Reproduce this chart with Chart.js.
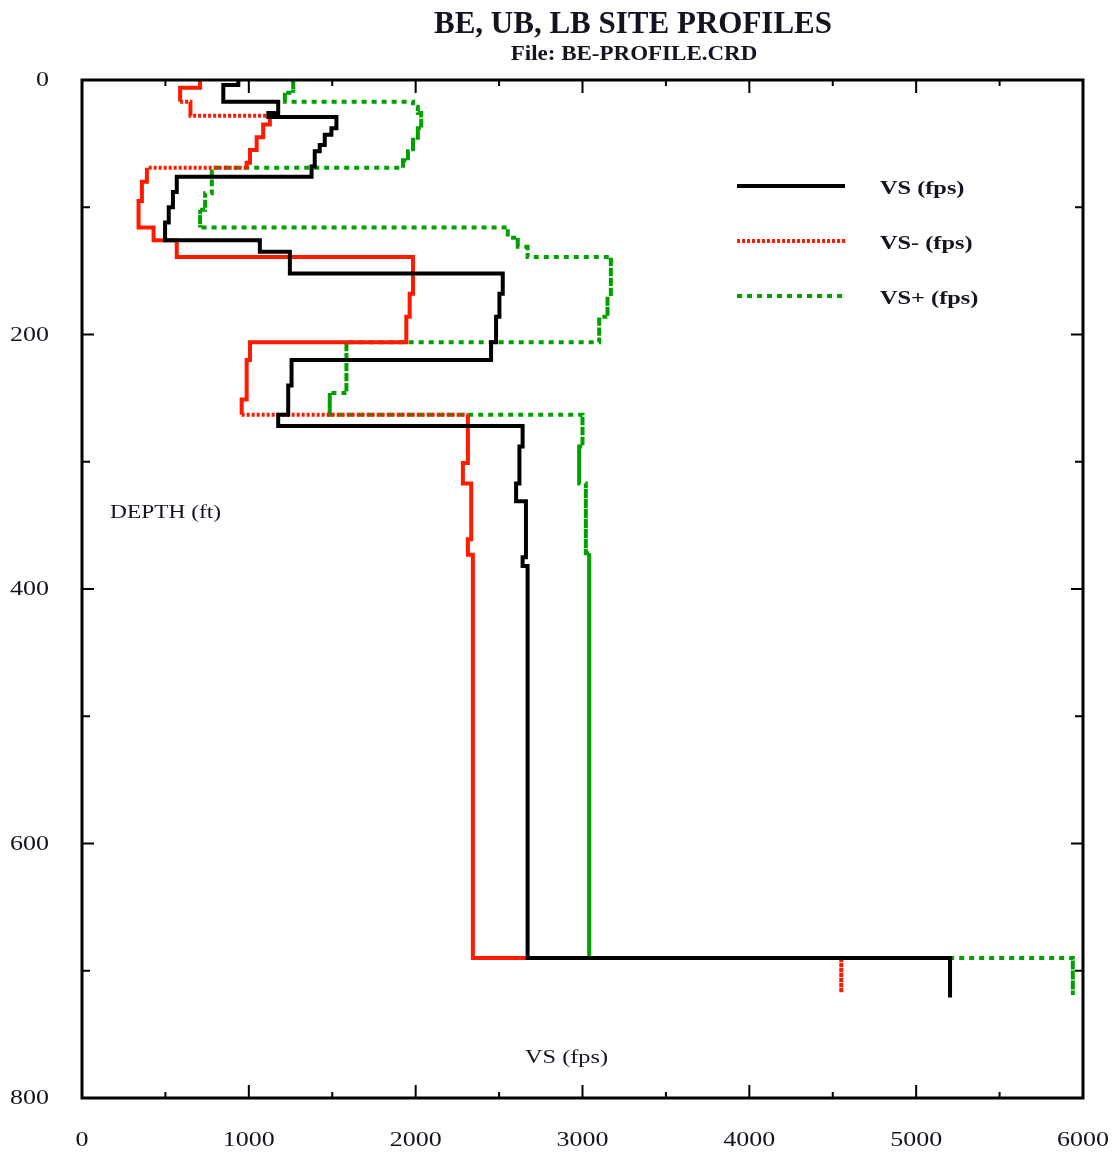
<!DOCTYPE html>
<html>
<head>
<meta charset="utf-8">
<script src="https://cdn.jsdelivr.net/npm/chart.js@4"></script>
<style>
  html, body { margin: 0; padding: 0; background: #fff; }
  #wrap { width: 1119px; height: 1152px; }
</style>
</head>
<body>
<div id="wrap"><canvas id="profileChart"></canvas></div>
<script>
const titleText = "BE, UB, LB SITE PROFILES";
const subtitleText = "File: BE-PROFILE.CRD";
const xAxisLabel = "VS (fps)";
const yAxisLabel = "DEPTH (ft)";
const seriesNames = ["VS (fps)", "VS- (fps)", "VS+ (fps)"];

// layer top depth (ft) and shear wave velocity (fps) for each profile
const vsDepth = [0, 4, 17, 26, 29, 38, 43, 51, 56, 68, 76, 88, 100, 112, 126, 135, 152, 168, 186, 206, 220, 240, 263, 272, 288, 317, 331, 375, 382, 690];
const vsVel   = [937, 847, 1176, 1117, 1525, 1495, 1455, 1425, 1395, 1376, 568, 545, 520, 498, 1066, 1246, 2522, 2502, 2482, 2452, 1256, 1236, 1176, 2641, 2622, 2602, 2661, 2641, 2671, 5203];
const vsBottom = 721;

const lbDepth = [0, 6, 17, 28, 35, 45, 55, 65, 69, 80, 95, 116, 126, 139, 168, 186, 206, 220, 251, 263, 301, 317, 361, 373, 690];
const lbVel   = [708, 588, 650, 1126, 1086, 1047, 1007, 987, 389, 359, 339, 429, 568, 1984, 1964, 1944, 1007, 987, 957, 2313, 2283, 2333, 2313, 2343, 4551];
const lbBottom = 717;

const ubDepth = [0, 10, 17, 21, 26, 38, 47, 56, 63, 69, 89, 102, 116, 124, 131, 139, 170, 186, 206, 246, 263, 288, 317, 372, 690];
const ubVel   = [1266, 1216, 1984, 2013, 2033, 2013, 1984, 1954, 1924, 778, 738, 708, 2552, 2612, 2671, 3170, 3150, 3100, 1585, 1485, 3000, 2980, 3020, 3040, 5939];
const ubBottom = 719;

const xTickLabels = [0, 1000, 2000, 3000, 4000, 5000, 6000];
const yTickLabels = [0, 200, 400, 600, 800];
const xMinorTicks = [500, 1500, 2500, 3500, 4500, 5500];
const yMinorTicks = [100, 300, 500, 700];

// which layer edges show the dash pattern in the plot (by layer index)
const lbDashedVerticals = [2, 24];
const lbDashedHorizontals = [1, 2, 7, 18];
const ubSolidVerticals = [23];

// corner points: (v_i, top_i) then (v_i, top_{i+1})
function profilePoints(depths, vels, bottom) {
  const pts = [];
  depths.forEach((d, i) => {
    const next = i + 1 < depths.length ? depths[i + 1] : bottom;
    pts.push({ x: vels[i], y: d });
    pts.push({ x: vels[i], y: next });
  });
  return pts;
}

const serif = "'Liberation Serif', 'Times New Roman', serif";
const textColor = "#141420";
const redDash = [3, 2];
const greenDash = [5, 5];

function wideText(ctx, text, x, y, font, stretch, align) {
  ctx.save();
  ctx.font = font;
  ctx.fillStyle = textColor;
  ctx.textBaseline = "middle";
  ctx.textAlign = align;
  ctx.translate(x, y);
  ctx.scale(stretch, 1);
  ctx.fillText(text, 0, 0);
  ctx.restore();
}

const frameAndLabels = {
  id: "frameAndLabels",
  beforeDraw(chart) {
    const ctx = chart.ctx;
    ctx.save();
    ctx.fillStyle = "#fff";
    ctx.fillRect(0, 0, chart.width, chart.height);
    ctx.restore();
  },
  afterDraw(chart) {
    const ctx = chart.ctx;
    const a = chart.chartArea;
    const xs = chart.scales.x;
    const ys = chart.scales.y;
    ctx.save();

    // ticks pointing inward on all four sides
    ctx.strokeStyle = "#000";
    ctx.lineWidth = 2;
    const tickX = (vals, len) => vals.forEach(v => {
      const px = xs.getPixelForValue(v);
      ctx.beginPath();
      ctx.moveTo(px, a.bottom); ctx.lineTo(px, a.bottom - len);
      ctx.moveTo(px, a.top); ctx.lineTo(px, a.top + len);
      ctx.stroke();
    });
    const tickY = (vals, len) => vals.forEach(v => {
      const py = ys.getPixelForValue(v);
      ctx.beginPath();
      ctx.moveTo(a.left, py); ctx.lineTo(a.left + len, py);
      ctx.moveTo(a.right, py); ctx.lineTo(a.right - len, py);
      ctx.stroke();
    });
    tickX(xTickLabels, 13);
    tickX(xMinorTicks, 6);
    tickY(yTickLabels, 12);
    tickY(yMinorTicks, 8);

    // frame
    ctx.lineWidth = 3;
    ctx.strokeRect(a.left, a.top, a.right - a.left, a.bottom - a.top);

    // tick labels, placed by the scales
    const tickFont = "20px " + serif;
    xs.ticks.forEach(t => {
      wideText(ctx, String(t.value), xs.getPixelForValue(t.value), a.bottom + 43, tickFont, 1.3, "center");
    });
    ys.ticks.forEach(t => {
      wideText(ctx, String(t.value), a.left - 33, ys.getPixelForValue(t.value) + 1, tickFont, 1.3, "right");
    });

    // titles
    ctx.fillStyle = textColor;
    ctx.textAlign = "center";
    ctx.textBaseline = "alphabetic";
    ctx.font = "bold 31px " + serif;
    ctx.fillText(titleText, 633, 33);
    ctx.save();
    ctx.translate(634, 60);
    ctx.scale(1.15, 1);
    ctx.font = "bold 20px " + serif;
    ctx.fillText(subtitleText, 0, 0);
    ctx.restore();

    // axis titles inside the plot
    wideText(ctx, yAxisLabel, a.left + 28, 513, "18px " + serif, 1.3, "left");
    wideText(ctx, xAxisLabel, a.left + 443, 1058, "18px " + serif, 1.35, "left");

    // legend
    const dashes = [[], redDash, greenDash];
    chart.data.datasets.forEach((ds, i) => {
      const y = a.top + 106 + i * 55;
      ctx.save();
      ctx.strokeStyle = ds.borderColor;
      ctx.lineWidth = ds.borderWidth;
      ctx.setLineDash(dashes[i]);
      ctx.beginPath();
      ctx.moveTo(a.left + 655, y);
      ctx.lineTo(a.left + 763, y);
      ctx.stroke();
      ctx.restore();
      wideText(ctx, seriesNames[i], a.left + 798, y + 3, "bold 19px " + serif, 1.28, "left");
    });
    ctx.restore();
  }
};

const segLayer = c => ({ layer: c.p0DataIndex >> 1, vertical: c.p0DataIndex % 2 === 0 });

new Chart(document.getElementById("profileChart"), {
  type: "scatter",
  data: {
    datasets: [
      {
        label: seriesNames[0],
        data: profilePoints(vsDepth, vsVel, vsBottom),
        showLine: true,
        borderColor: "#000000",
        borderWidth: 4,
        pointRadius: 0,
      },
      {
        label: seriesNames[1],
        data: profilePoints(lbDepth, lbVel, lbBottom),
        showLine: true,
        borderColor: "#ff1a00",
        borderWidth: 4,
        pointRadius: 0,
        segment: {
          borderDash: c => {
            const s = segLayer(c);
            const list = s.vertical ? lbDashedVerticals : lbDashedHorizontals;
            return list.includes(s.layer) ? redDash : [];
          },
        },
      },
      {
        label: seriesNames[2],
        data: profilePoints(ubDepth, ubVel, ubBottom),
        showLine: true,
        borderColor: "#00a000",
        borderWidth: 4,
        pointRadius: 0,
        segment: {
          borderDash: c => {
            const s = segLayer(c);
            return s.vertical && ubSolidVerticals.includes(s.layer) ? [] : greenDash;
          },
        },
      },
    ],
  },
  options: {
    responsive: true,
    maintainAspectRatio: false,
    animation: false,
    layout: { padding: { top: 80, right: 36, left: 0, bottom: 0 } },
    plugins: {
      legend: { display: false },
      title: { display: false },
      tooltip: { enabled: false },
    },
    scales: {
      x: {
        type: "linear",
        position: "bottom",
        min: 0,
        max: 6000,
        grid: { display: false },
        border: { display: false },
        afterBuildTicks: s => { s.ticks = xTickLabels.map(v => ({ value: v })); },
        afterFit: s => { s.height = 54; },
        ticks: { display: false },
      },
      y: {
        type: "linear",
        reverse: true,
        min: 0,
        max: 800,
        grid: { display: false },
        border: { display: false },
        afterBuildTicks: s => { s.ticks = yTickLabels.map(v => ({ value: v })); },
        afterFit: s => { s.width = 82; },
        ticks: { display: false },
      },
    },
  },
  plugins: [frameAndLabels],
});
</script>
</body>
</html>
